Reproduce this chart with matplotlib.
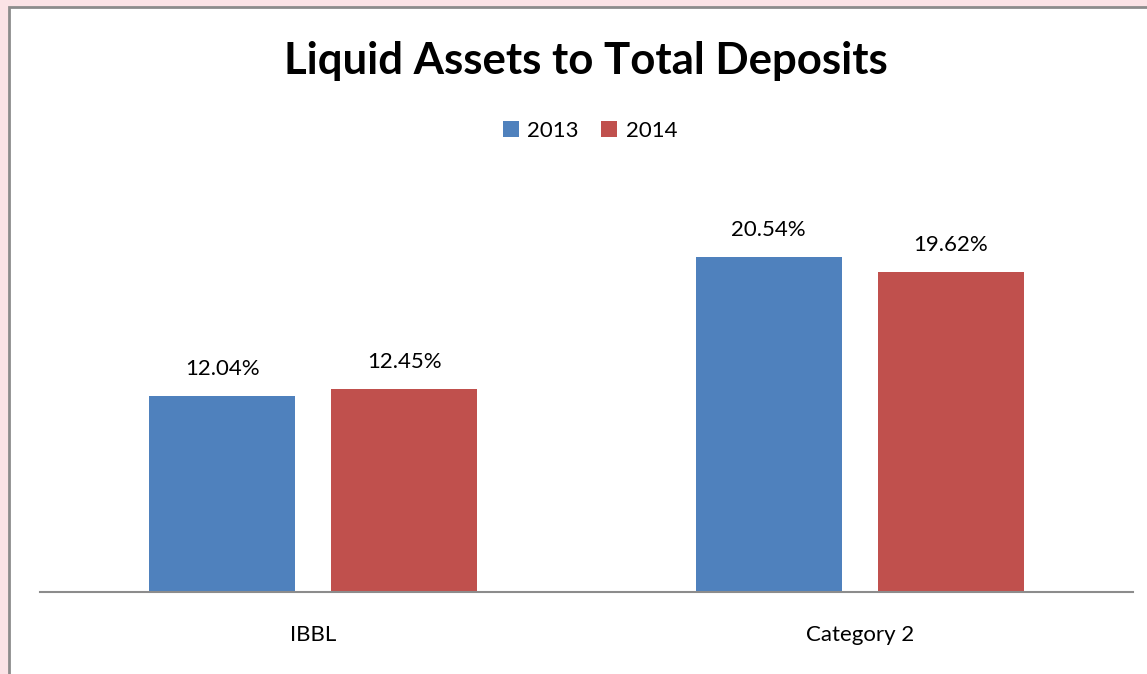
import matplotlib.pyplot as plt
from matplotlib.patches import Rectangle
import numpy as np

categories = ["IBBL", "Category 2"]
series_names = ["2013", "2014"]
values_2013 = [12.04, 20.54]
values_2014 = [12.45, 19.62]
colors = ["#4F81BD", "#C0504D"]

W, H = 1147, 674
fig = plt.figure(figsize=(W / 100, H / 100), dpi=100)
fig.patch.set_facecolor("#fbe3e6")

# chart area (white with grey border)
bg = fig.add_axes([0, 0, 1, 1], zorder=0)
bg.set_xlim(0, W)
bg.set_ylim(H, 0)
bg.axis("off")
bg.add_patch(Rectangle((9, 7), W + 50, H + 50, facecolor="white",
                       edgecolor="#8c8c8c", linewidth=2))

ax = fig.add_axes([40 / W, (H - 592) / H, 1093 / W, 407.5 / H], zorder=1)
ax.set_facecolor("none")

font = "Lato"
x = np.arange(len(categories))
off = 0.1665
bw = 0.267
b1 = ax.bar(x - off, values_2013, bw, color=colors[0], label=series_names[0])
b2 = ax.bar(x + off, values_2014, bw, color=colors[1], label=series_names[1])

for bars, vals in ((b1, values_2013), (b2, values_2014)):
    for r, v in zip(bars, vals):
        ax.annotate(f"{v:.2f}%", (r.get_x() + r.get_width() / 2, v),
                    xytext=(0, 27), textcoords="offset pixels",
                    ha="center", va="center", fontsize=16, family=font,
                    color="black")

ax.set_xlim(-0.5, 1.5)
ax.set_ylim(0, 25)
ax.set_yticks([])
ax.set_xticks(x)
ax.set_xticklabels(categories, fontsize=16, family=font)
ax.tick_params(axis="x", length=0, pad=24)
for s in ("top", "right", "left"):
    ax.spines[s].set_visible(False)
ax.spines["bottom"].set_color("#8c8c8c")
ax.spines["bottom"].set_linewidth(1.5)

fig.text(586 / W, 1 - 61 / H, "Liquid Assets to Total Deposits",
         ha="center", va="center", fontsize=31.5, fontweight="bold", family=font)

leg = fig.legend(handles=[b1, b2], labels=series_names, loc="center",
                 bbox_to_anchor=(590 / W, 1 - 131 / H), ncol=2, frameon=False,
                 prop={"family": font, "size": 16}, handlelength=0.7,
                 handleheight=0.7, handletextpad=0.4, columnspacing=1.0)

fig.savefig("out.png", dpi=100)
